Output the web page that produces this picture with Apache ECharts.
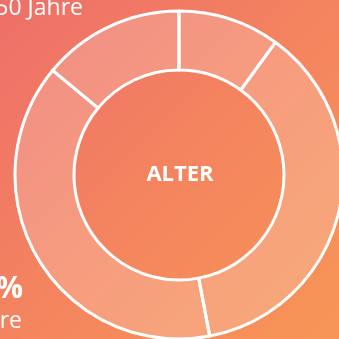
<!DOCTYPE html>
<html>
<head>
<meta charset="utf-8">
<script src="https://cdn.jsdelivr.net/npm/echarts@6/dist/echarts.min.js"></script>
<style>
html,body{margin:0;padding:0;width:339px;height:339px;overflow:hidden;}
#c{width:339px;height:339px;}
</style>
</head>
<body>
<div id="c"></div>
<script>
const categories = ['bis 30 Jahre', '30–40 Jahre', '40–50 Jahre', 'über 50 Jahre'];
const shares = [10, 37, 39, 14];
const centerLabel = 'ALTER';
const topText = '50 Jahre';
const bottomPct = '%';
const bottomText = 're';

const chart = echarts.init(document.getElementById('c'), null, {renderer: 'canvas'});
chart.setOption({
  animation: false,
  backgroundColor: new echarts.graphic.LinearGradient(0, 0, 1, 1, [
    {offset: 0, color: '#ee6f69'},
    {offset: 0.5, color: '#f4845f'},
    {offset: 1, color: '#f79556'}
  ]),
  series: [{
    type: 'pie',
    center: [179, 175],
    radius: [105, 164],
    startAngle: 90,
    clockwise: true,
    label: {show: false},
    labelLine: {show: false},
    silent: true,
    itemStyle: {
      color: 'rgba(255,255,255,0.2)',
      borderColor: '#ffffff',
      borderWidth: 3
    },
    data: categories.map((n, i) => ({name: n, value: shares[i]}))
  }],
  graphic: [
    {type: 'text', style: {
      text: centerLabel, x: 180, y: 175, textAlign: 'center', textVerticalAlign: 'middle',
      fill: '#fff', font: 'bold 22px "Open Sans"'
    }},
    {type: 'text', style: {
      text: topText, x: 83, y: 20, textAlign: 'right', textVerticalAlign: 'bottom',
      fill: '#fff', font: 'normal 23px "Open Sans"'
    }},
    {type: 'text', style: {
      text: bottomPct, x: 23, y: 304, textAlign: 'right', textVerticalAlign: 'bottom',
      fill: '#fff', font: 'bold 30px "Open Sans"'
    }},
    {type: 'text', style: {
      text: bottomText, x: 22, y: 333, textAlign: 'right', textVerticalAlign: 'bottom',
      fill: '#fff', font: 'normal 23px "Open Sans"'
    }}
  ]
});
</script>
</body>
</html>
